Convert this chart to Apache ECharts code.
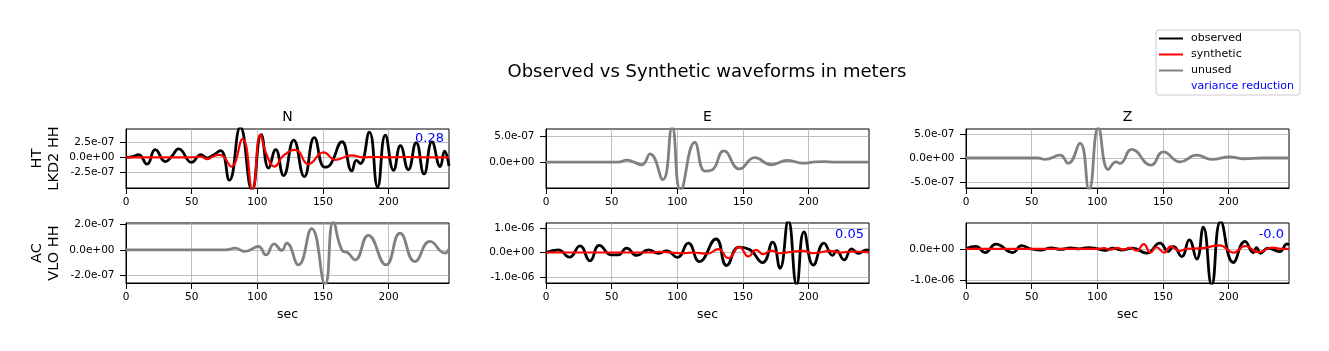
<!DOCTYPE html>
<html>
<head>
<meta charset="utf-8">
<script src="https://cdn.jsdelivr.net/npm/echarts@6/dist/echarts.min.js"></script>
<style>
  html, body { margin: 0; padding: 0; background: #fff; }
  #chart { width: 1329px; height: 351px; }
</style>
</head>
<body>
<div id="chart"></div>
<script>
// amplitudes below are in units of 1e-7 m, time in seconds
const UNIT = 1e-7
const xTicks = [0, 50, 100, 150, 200]
const xMax = 246
const components = ['N', 'E', 'Z']
const stations = ['HT\nLKD2 HH', 'AC\nVLO HH']

// panels: 0..2 first station N/E/Z, 3..5 second station N/E/Z
const yRange = [[-4.98e-7, 4.6e-7], [-4.95e-7, 6.35e-7], [-6.25e-7, 6.05e-7],
                [-2.6e-7, 2.1e-7], [-1.24e-6, 1.2e-6], [-1.1e-6, 0.83e-6]]
const yStep = [2.5e-7, 5e-7, 5e-7, 2e-7, 1e-6, 1e-6]
const yTicks = [[-2.5e-7, 0, 2.5e-7], [0, 5e-7], [-5e-7, 0, 5e-7],
                [-2e-7, 0, 2e-7], [-1e-6, 0, 1e-6], [-1e-6, 0]]
const varianceReduction = ['0.28', '', '', '', '0.05', '-0.0']

const obsN1 = [[0,0],[5,0.1],[9.6,0.45],[16,-1.1],[22.3,1.26],[30,-0.7],[35,0.2],[40,1.37],[50,-0.82],
  [57,0.45],[61.7,-0.1],[66,0.3],[72,1.1],[78.7,-3.7],[87,4.9],[96,-5.3],[103,3.7],[108.6,-1.76],
  [114,1.26],[120,-2.97],[127.7,2.8],[135.8,-3.13],[143.4,3.19],[151.3,-1.6],[155.6,-1.2],[164.5,2.53],
  [172,-2.2],[175.5,-0.5],[178.5,-1.0],[185.3,4.1],[191.6,-4.8],[197.5,3.6],[203.8,-2.1],[209,1.9],
  [215,-2.0],[221,2.4],[227,-2.7],[233,2.5],[239.3,-1.5],[242.6,1.0],[246,-1.4]]
const synN1 = [[0,0],[50,0],[57,0.1],[61.7,-0.3],[66,0.1],[70.5,0.4],[74,0.2],[80.2,-1.5],[88.8,3.0],
  [96.4,-5.3],[102.3,3.7],[107,0.5],[113.2,-1.5],[120,0.3],[129,1.2],[139,-1.1],[150.5,0.8],[159.4,-0.4],
  [172,0.33],[180,0],[190,0.05],[200,0],[215,0.05],[230,0],[246,0]]
const unusedE1 = [[0,0],[55,0],[61.7,0.4],[66,0.1],[73,-0.5],[79.3,1.6],[89,-3.35],[96,6.7],[102.5,-5.4],
  [113.3,3.8],[121,-1.7],[126.4,-1.5],[135.5,2.15],[147.3,-1.3],[159,0.85],[171.5,-0.5],[184,0.35],
  [196,-0.2],[205,0.05],[212,0.1],[220,0],[246,0]]
const unusedZ1 = [[0,0],[55,0],[60.2,-0.3],[71.6,0.6],[77.9,-1.1],[86.8,3.1],[93.7,-6.6],[100.8,6.3],
  [108.4,-2.4],[114.2,-0.8],[117.3,-1.1],[126.2,1.8],[140.9,-1.5],[150.3,1.3],[163,-0.8],[175.7,0.6],
  [187.1,-0.3],[201,0.25],[212,-0.15],[225,0],[246,0]]
const unusedN2 = [[0,0],[76,0],[83,0.13],[90.6,-0.13],[100.8,0.26],[106.6,-0.4],[112.8,0.47],[118.6,-0.05],
  [122.4,0.53],[131.3,-1.18],[141.4,1.66],[151.6,-2.7],[157.9,2.2],[164.3,0],[169.3,-0.26],[174.4,-0.8],
  [184.5,1.13],[198,-1.18],[208.7,1.3],[220,-0.92],[231.5,0.66],[243,-0.26],[246,0.05]]
const obsE2 = [[0,0],[9.4,1.1],[17.8,-1.9],[25.9,2.7],[33.5,-3.4],[40.6,2.9],[50,-1.0],[55,-1.0],
  [61.4,1.8],[69,-1.2],[78,1.1],[85.7,-0.3],[92,0.7],[100,-2.0],[108.4,3.8],[116.8,-3.7],[129.5,5.5],
  [137.6,-5.3],[147,2.2],[155,1.2],[165,-4.1],[172.6,4.2],[178.2,-6.4],[184.5,13],[190.9,-13],
  [196.5,8.4],[203.6,-5.1],[211.7,3.8],[218.3,-1.2],[221.3,0.8],[227,-3.0],[232.8,1.5],[237.9,-0.3],
  [244.2,1.1],[246,0.8]]
const synE2 = [[0,0],[80,0],[86,0.3],[95,0],[104,-0.3],[112,0],[123,-0.5],[131.2,1.4],[138.9,-2.3],
  [147.2,2.3],[154.1,-1.6],[160,1.1],[165.5,-0.7],[171.7,0.8],[178,-0.3],[186,0.2],[195.8,0.7],
  [203,-0.3],[209,0.1],[216.2,0.7],[224,0],[233,0.4],[246,0]]
const obsZ2 = [[0,0],[7.6,0.75],[14.5,-1.2],[22.8,1.5],[35.5,-1.2],[42.4,1.0],[49,0],[56.6,-0.4],
  [65,0.3],[72,-0.2],[80,0.3],[86,0],[93.4,0.4],[100,0],[106,-0.5],[112,0.2],[118,-0.4],[127,0.2],
  [137.6,-1.4],[147.7,1.8],[154,-0.86],[157.9,0.75],[164.3,-2.5],[170,2.9],[175.7,-3.3],[180.7,7.0],
  [187.1,-11.6],[194,8.8],[203.6,-4.4],[212.5,2.4],[218.8,-1.2],[221.3,0.4],[224.3,-1.4],[230,0.2],
  [238.9,-0.9],[244.5,1.6],[246,1.2]]
const synZ2 = [[0,0],[100,0],[105,0.2],[110,-0.3],[115,0.3],[120,-0.2],[125,0.3],[130,-0.6],
  [135.3,1.5],[140.5,-1.2],[145,0.5],[151,-1.2],[156,0.8],[162.5,-0.7],[168,0],[180,0.2],[193,1.1],
  [203.8,-1.2],[212.7,0.9],[223,-1.1],[233,0.4],[240,0],[246,0]]

const traces = [
  { name: 'observed', panel: 0, data: obsN1 },
  { name: 'synthetic', panel: 0, data: synN1 },
  { name: 'unused', panel: 1, data: unusedE1 },
  { name: 'unused', panel: 2, data: unusedZ1 },
  { name: 'unused', panel: 3, data: unusedN2 },
  { name: 'observed', panel: 4, data: obsE2 },
  { name: 'synthetic', panel: 4, data: synE2 },
  { name: 'observed', panel: 5, data: obsZ2 },
  { name: 'synthetic', panel: 5, data: synZ2 }
]
const colors = { observed: '#000000', synthetic: '#ff0000', unused: '#808080' }
const widths = { observed: 2.8, synthetic: 2.2, unused: 2.8 }

const FONT = 'DejaVu Sans'
const colLeft = [126, 546, 966]
const rowTop = [129, 223]
const rowHeight = [59, 60]
const panelWidth = 323

function sci (v) {
  if (Math.abs(v) < 1e-12) return '0.0e+00'
  return v.toExponential(1).replace(/e([+-])(\d)$/, (m, s, d) => 'e' + s + '0' + d)
}

const grids = []
const xAxes = []
const yAxes = []
const graphics = [{
  type: 'text', x: 707, y: 72.5,
  style: { text: 'Observed vs Synthetic waveforms in meters', font: '18px ' + FONT, fill: '#000', textAlign: 'center', textVerticalAlign: 'middle' }
}]

for (let p = 0; p < 6; p++) {
  const row = Math.floor(p / 3)
  const col = p % 3
  grids.push({
    left: colLeft[col], top: rowTop[row], width: panelWidth, height: rowHeight[row],
    show: true, borderColor: '#000', borderWidth: 1, backgroundColor: 'transparent'
  })
  xAxes.push({
    type: 'value', gridIndex: p, min: 0, max: xMax, interval: 50,
    name: row === 1 ? 'sec' : '', nameLocation: 'middle', nameGap: 25,
    nameTextStyle: { fontFamily: FONT, fontSize: 12.5, color: '#000' },
    axisLine: { show: true, onZero: false, lineStyle: { color: '#000', width: 1 } },
    axisTick: { show: true, length: 6, customValues: xTicks, lineStyle: { color: '#000' } },
    axisLabel: { customValues: xTicks, margin: 8.5, fontFamily: FONT, fontSize: 10.5, color: '#000' },
    splitLine: { show: true, lineStyle: { color: '#b0b0b0', width: 0.8 } }
  })
  yAxes.push({
    type: 'value', gridIndex: p, min: yRange[p][0], max: yRange[p][1],
    minInterval: yStep[p], maxInterval: yStep[p],
    name: col === 0 ? stations[row] : '', nameLocation: 'middle', nameRotate: 90, nameGap: 63,
    nameTextStyle: { fontFamily: FONT, fontSize: 14.5, lineHeight: 17.5, color: '#000' },
    axisLine: { show: true, onZero: false, lineStyle: { color: '#000', width: 1 } },
    axisTick: { show: true, length: 6, customValues: yTicks[p], lineStyle: { color: '#000' } },
    axisLabel: { customValues: yTicks[p], margin: 11.5, fontFamily: FONT, fontSize: 10.5, color: '#000', formatter: sci },
    splitLine: { show: true, lineStyle: { color: '#b0b0b0', width: 0.8 } }
  })
  if (row === 0) {
    graphics.push({
      type: 'text', x: colLeft[col] + panelWidth / 2, y: 117,
      style: { text: components[col], font: '14px ' + FONT, fill: '#000', textAlign: 'center', textVerticalAlign: 'middle' }
    })
  }
  if (varianceReduction[p]) {
    graphics.push({
      type: 'text', x: colLeft[col] + panelWidth - 5, y: row === 0 ? 139 : 234.5,
      style: { text: varianceReduction[p], font: '13px ' + FONT, fill: '#0000ff', textAlign: 'right', textVerticalAlign: 'middle' }
    })
  }
}

const series = traces.map(t => ({
  type: 'line',
  name: t.name,
  xAxisIndex: t.panel,
  yAxisIndex: t.panel,
  data: t.data.map(d => [d[0], d[1] * UNIT]),
  smooth: 0.5,
  symbol: 'none',
  showSymbol: false,
  clip: true,
  z: t.name === 'synthetic' ? 3 : 2,
  itemStyle: { color: colors[t.name] },
  lineStyle: { color: colors[t.name], width: widths[t.name] }
}))
// legend-only entry for the blue variance reduction numbers
series.push({ type: 'line', name: 'variance reduction', xAxisIndex: 0, yAxisIndex: 0, data: [], itemStyle: { color: '#0000ff' } })

const option = {
  animation: false,
  backgroundColor: '#fff',
  textStyle: { fontFamily: FONT },
  legend: {
    orient: 'vertical', left: 1156, top: 30, selectedMode: false,
    padding: [3, 6, 3, 3], itemGap: 5, itemWidth: 24, itemHeight: 2,
    backgroundColor: '#fff', borderColor: '#cccccc', borderWidth: 1, borderRadius: 3,
    textStyle: { fontFamily: FONT, fontSize: 11, color: '#000', padding: [0, 0, 0, 3] },
    data: [
      { name: 'observed', icon: 'rect' },
      { name: 'synthetic', icon: 'rect' },
      { name: 'unused', icon: 'rect' },
      { name: 'variance reduction', icon: 'rect', itemStyle: { opacity: 0 }, textStyle: { color: '#0000ff', padding: [0, 0, 0, 3] } }
    ]
  },
  grid: grids,
  xAxis: xAxes,
  yAxis: yAxes,
  graphic: graphics,
  series: series
}

const myChart = echarts.init(document.getElementById('chart'))
myChart.setOption(option)
</script>
</body>
</html>
